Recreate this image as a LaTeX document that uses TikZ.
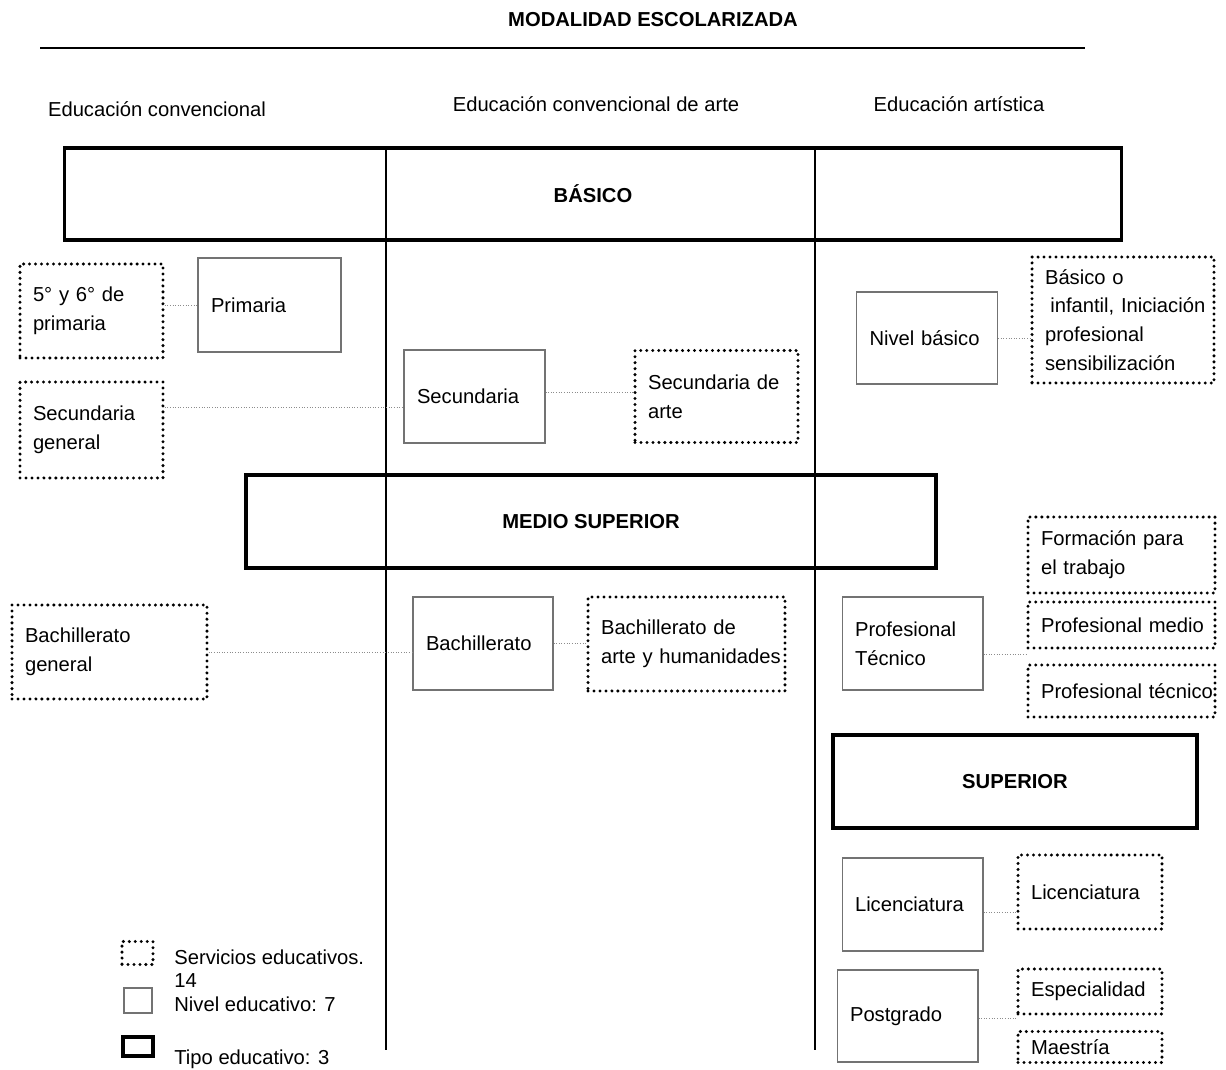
\documentclass[tikz,border=0pt]{standalone}
\usepackage{fontspec}
\setmainfont{Liberation Sans}
\usepackage{tikz}
\newcommand{\cuerpo}{\fontsize{11.5}{16.4}\selectfont}
\tikzset{
	tipo/.style 2 args={draw, line width=1.8pt, font=\cuerpo\bfseries, minimum width=#1, minimum height=#2, inner sep=0pt},
	nivel/.style 2 args={draw=black!55, line width=0.6pt, text width=#1, minimum height=#2, inner xsep=0.26cm, inner ysep=0pt, align=left},
	servicio/.style 2 args={draw, line width=1.9pt, dash pattern=on 0pt off 3.4pt, line cap=round, text width=#1, minimum height=#2, inner xsep=0.26cm, inner ysep=0pt, align=left},
	enlace/.style={draw=black!45, line width=0.5pt, densely dotted},
}

\begin{document}
\begin{tikzpicture}[x=0.02cm, y=-0.02cm, font=\cuerpo]
		%%%%% START %%%%%
		\useasboundingbox (0,0) rectangle (1226,1070);
		
		\node[font=\cuerpo\bfseries] (titulo) at (653,20) {MODALIDAD ESCOLARIZADA};
		\draw[line width=1.1pt] (40,48) -- (1085,48);
		
		\node (hconv) at (157,109) {Educación convencional};
		\node (harte) at (596,104) {Educación convencional de arte};
		\node (hartis) at (959,104) {Educación artística};
		
		\draw[line width=0.6pt] (386,148) -- (386,1050);
		\draw[line width=0.6pt] (815,148) -- (815,1050);
		
		% tipos educativos
		\node[tipo={21.16cm}{1.84cm}] (basico) at (593,194) {BÁSICO};
		\node[tipo={13.8cm}{1.86cm}] (medio) at (591,521.5) {MEDIO SUPERIOR};
		\node[tipo={7.28cm}{1.86cm}] (superior) at (1015,781.5) {SUPERIOR};
		
		% basico
		\node[servicio={2.34cm}{1.88cm}] (quinto) at (91.5,311) {5° y 6° de\\primaria};
		\node[nivel={2.34cm}{1.88cm}] (prim) at (269.5,305) {Primaria};
		\node[servicio={2.34cm}{1.92cm}] (secgen) at (91.5,430) {Secundaria\\general};
		\node[nivel={2.30cm}{1.86cm}] (sec) at (474.5,396.5) {Secundaria};
		\node[servicio={2.74cm}{1.84cm}] (secarte) at (716.5,396.5) {Secundaria de\\arte};
		\node[nivel={2.30cm}{1.84cm}] (nivbas) at (927,338) {Nivel básico};
		\node[servicio={3.12cm}{2.52cm}] (basini) at (1123,320) {Básico o\\\hspace*{3pt}\mbox{infantil, Iniciación}\\profesional\\sensibilización};
		
		\draw[enlace] (quinto.east |- prim.west) -- (prim.west);
		\coordinate (ysec) at (0,407);
		\draw[enlace] (secgen.east |- ysec) -- (sec.west |- ysec);
		\draw[enlace] ([yshift=0.09cm]sec.east) -- ([yshift=0.09cm]sec.east -| secarte.west);
		\draw[enlace] (nivbas.east) -- (nivbas.east -| basini.west);
		
		% medio superior
		\node[servicio={3.38cm}{1.88cm}] (bachgen) at (109.5,652) {Bachillerato\\general};
		\node[nivel={2.28cm}{1.86cm}] (bach) at (483,643.5) {Bachillerato};
		\node[servicio={3.42cm}{1.88cm}] (bacharte) at (686.5,644) {Bachillerato de\\\mbox{arte y humanidades}};
		\node[nivel={2.30cm}{1.86cm}] (proftec) at (912.5,643.5) {Profesional\\Técnico};
		\node[servicio={3.22cm}{1.52cm}] (formtrab) at (1121.5,555) {Formación para\\el trabajo};
		\node[servicio={3.22cm}{0.92cm}] (profmed) at (1121.5,625) {\mbox{Profesional medio}};
		\node[servicio={3.22cm}{1.04cm}] (proftecs) at (1121.5,691) {\mbox{Profesional técnico}};
		
		\draw[enlace] (bachgen.east) -- (bachgen.east -| bach.west);
		\draw[enlace] (bach.east) -- (bach.east -| bacharte.west);
		\coordinate (fintec) at (1028,654);
		\draw[enlace] (proftec.east |- fintec) -- (fintec);
		
		% superior
		\node[nivel={2.30cm}{1.86cm}] (lic) at (912.5,904.5) {Licenciatura};
		\node[servicio={2.36cm}{1.48cm}] (licserv) at (1090,892) {Licenciatura};
		\node[nivel={2.30cm}{1.84cm}] (posg) at (907.5,1016) {Postgrado};
		\node[servicio={2.36cm}{0.90cm}] (espec) at (1090,991.5) {Especialidad};
		\node[servicio={2.36cm}{0.62cm}] (maest) at (1090,1047) {Maestría};
		
		\draw[enlace] ([yshift=-0.15cm]lic.east) -- ([yshift=-0.15cm]lic.east -| licserv.west);
		\coordinate (finpos) at (1018,1018);
		\draw[enlace] (posg.east |- finpos) -- (finpos);
		
		% leyenda
		\node[servicio={0.1cm}{0.46cm}] (lserv) at (137.5,953) {};
		\node[anchor=west, align=left, inner sep=0pt, font=\fontsize{11.5}{13}\selectfont] (tserv) at (174,968.5) {Servicios educativos.\\14};
		\node[nivel={0.04cm}{0.5cm}] (lniv) at (138,1000.5) {};
		\node[anchor=west, inner sep=0pt] (tniv) at (174,1004) {Nivel educativo: 7};
		\node[tipo={0.6cm}{0.38cm}] (ltipo) at (138,1046.5) {};
		\node[anchor=west, inner sep=0pt] (ttipo) at (174,1059) {Tipo educativo: 3};
		
		%%%%% END %%%%%
\end{tikzpicture}
\end{document}
